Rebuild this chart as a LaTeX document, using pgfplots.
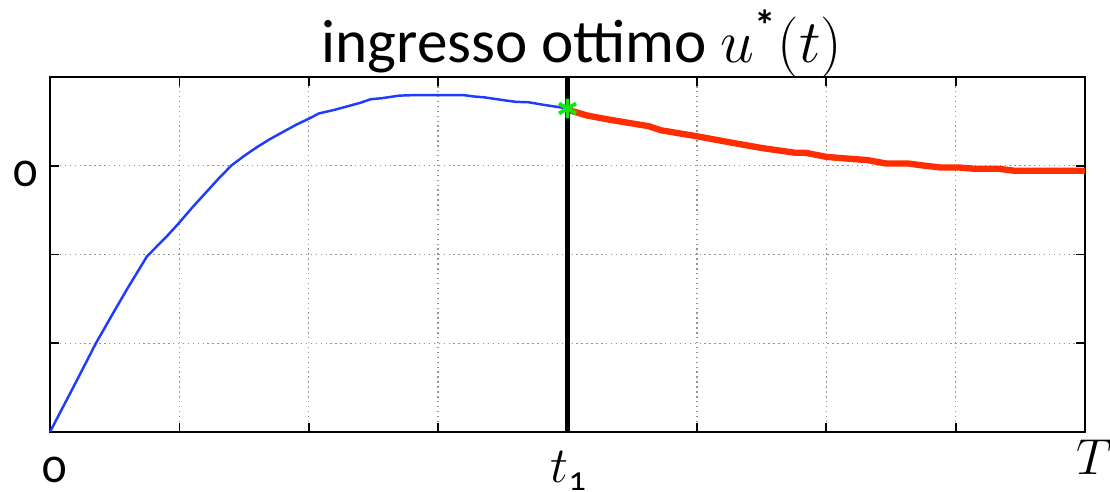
\documentclass[border=0pt]{standalone}
\usepackage{amsmath}
\usepackage{fontspec}
\setmainfont{Carlito}[Numbers=OldStyle]
\usepackage{pgfplots}
\pgfplotsset{compat=1.18}

\definecolor{ublue}{RGB}{30,60,255}
\definecolor{ured}{RGB}{255,45,0}
\definecolor{ugreen}{RGB}{20,230,20}

\begin{document}
\begin{tikzpicture}
\begin{axis}[
  scale only axis,
  width=294.5pt, height=101pt,
  xmin=0, xmax=8, ymin=-3, ymax=1,
  xtick={0,...,8},
  xticklabels={\hspace*{2.6pt}0,,,,\hspace*{1pt}$t_{\text{1}}$,,,,\hspace*{5.2pt}\raisebox{2.3pt}{$T$}},
  ytick={-3,-2,-1,0,1},
  yticklabels={,,,0,},
  grid=major,
  major grid style={densely dotted, gray!85, line width=0.4pt},
  tick align=inside,
  major tick length=2.5pt,
  tick style={black, line width=0.5pt},
  axis line style={black, line width=0.75pt},
  ticklabel style={font=\fontsize{13.6}{14}\selectfont},
  xticklabel style={anchor=base, yshift=-14.5pt},
  yticklabel style={yshift=-2.3pt},
  /pgf/number format/assume math mode=true,
  title={ingresso ottimo $u^{\text{\bfseries *}}(t)$},
  title style={font=\fontsize{17.4}{18}\selectfont, at={(rel axis cs:0.514,1)}, anchor=base, yshift=-2pt},
  clip=false,
]
% optimal input on [0, t1]
\addplot[ublue, line width=0.7pt] coordinates {
  (0,-3.00) (0.1,-2.72) (0.2,-2.44) (0.355,-2.00) (0.5,-1.63) (0.6,-1.38)
  (0.75,-1.02) (0.9,-0.80) (1.0,-0.64) (1.1,-0.47) (1.2,-0.31) (1.3,-0.15)
  (1.4,0.00) (1.5,0.11) (1.6,0.21) (1.7,0.30) (1.8,0.38) (1.9,0.46)
  (2.0,0.53) (2.08,0.59) (2.2,0.63) (2.3,0.67) (2.4,0.71) (2.48,0.75)
  (2.56,0.76) (2.7,0.79) (2.8,0.795) (3.0,0.795) (3.2,0.795) (3.28,0.78)
  (3.36,0.77) (3.5,0.74) (3.6,0.72) (3.7,0.715) (3.8,0.69) (4.0,0.645)
};
% optimal input on [t1, T]
\addplot[ured, line width=1.8pt] coordinates {
  (4.0,0.63) (4.155,0.565) (4.32,0.52) (4.63,0.445) (4.72,0.40) (5.0,0.332)
  (5.28,0.257) (5.5,0.20) (5.76,0.146) (5.84,0.146) (6.0,0.10) (6.08,0.09)
  (6.15,0.082) (6.32,0.063) (6.46,0.026) (6.63,0.026) (6.74,0.004)
  (6.88,-0.019) (7.02,-0.019) (7.14,-0.034) (7.33,-0.034) (7.45,-0.056)
  (8.0,-0.056)
};
% switching instant t1
\addplot[black, line width=1.3pt] coordinates {(4,-3) (4,1)};
\addplot[ugreen, only marks, mark=asterisk, mark size=2.8pt, line width=1.1pt] coordinates {(4,0.645)};
\coordinate (bl) at (rel axis cs:0,0);
\coordinate (tr) at (rel axis cs:1,1);
\end{axis}
\pgfresetboundingbox
\useasboundingbox ([xshift=-14.23pt,yshift=-17.07pt]bl) rectangle ([xshift=7.11pt,yshift=21.91pt]tr);
\end{tikzpicture}
\end{document}
